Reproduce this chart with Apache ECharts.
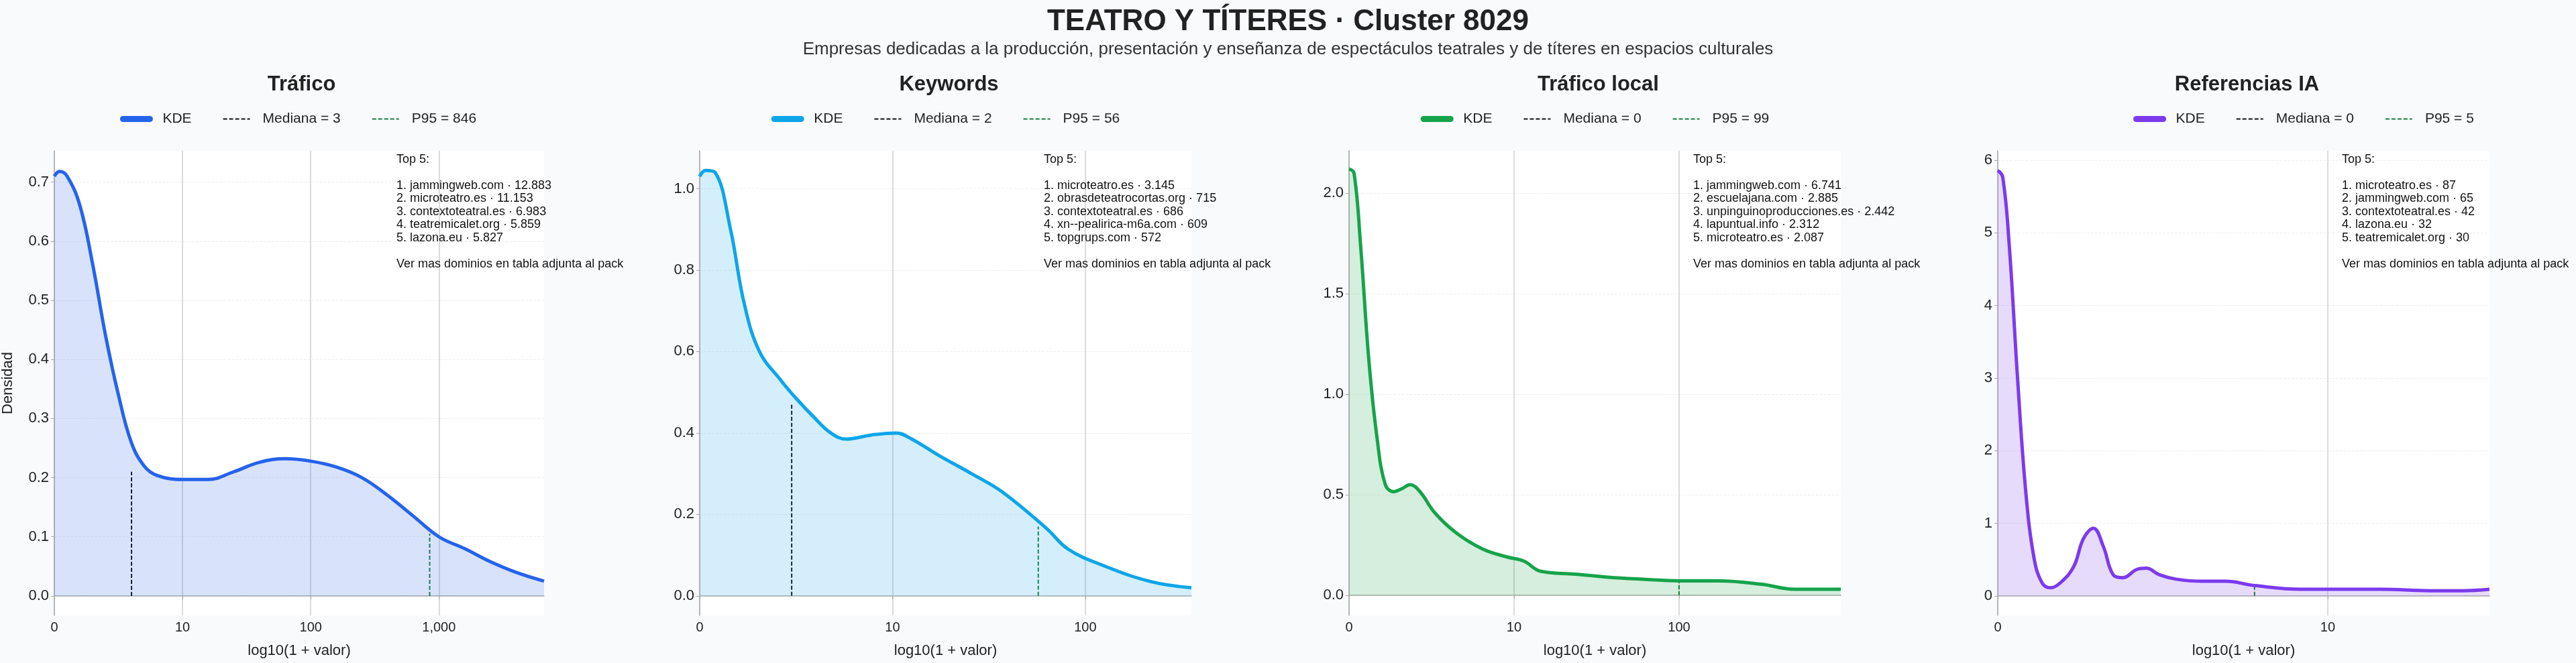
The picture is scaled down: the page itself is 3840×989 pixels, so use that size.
<!DOCTYPE html>
<html>
<head>
<meta charset="utf-8">
<script src="https://cdn.jsdelivr.net/npm/echarts@6/dist/echarts.min.js"></script>
<style>
  html, body { margin: 0; padding: 0; background: #f8fafc; }
  #chart { width: 3840px; height: 989px; }
</style>
</head>
<body>
<div id="chart"></div>
<script>
// Datos: x en log10(1 + valor), y = densidad KDE
var panelTitles = ['Tráfico', 'Keywords', 'Tráfico local', 'Referencias IA'];
var panelColors = ['#2563eb', '#0ea5e9', '#16a34a', '#7c3aed'];
var medianLabels = ['Mediana = 3', 'Mediana = 2', 'Mediana = 0', 'Mediana = 0'];
var p95Labels = ['P95 = 846', 'P95 = 56', 'P95 = 99', 'P95 = 5'];
var medianValues = [3, 2, 0, 0];
var p95Values = [846, 56, 99, 5];
var medianHeights = [0.21, 0.47, 2.1, 5.8];
var p95Heights = [0.105, 0.17, 0.07, 0.14];

var kdeTrafico = [[0,0.71],[0.04,0.718],[0.1,0.71],[0.2,0.66],[0.3,0.56],[0.4,0.44],[0.5,0.34],[0.6,0.26],[0.7,0.22],[0.8,0.204],[1.0,0.197],[1.2,0.197],[1.4,0.21],[1.6,0.226],[1.8,0.232],[2.0,0.228],[2.2,0.218],[2.4,0.2],[2.6,0.17],[2.8,0.135],[3.0,0.1],[3.2,0.08],[3.4,0.058],[3.6,0.04],[3.82,0.025]];
var kdeKeywords = [[0,1.03],[0.03,1.045],[0.08,1.04],[0.16,0.9],[0.23,0.72],[0.31,0.6],[0.42,0.53],[0.5,0.485],[0.59,0.44],[0.68,0.40],[0.76,0.385],[0.89,0.395],[1.02,0.4],[1.1,0.385],[1.24,0.345],[1.41,0.30],[1.57,0.255],[1.8,0.165],[1.91,0.115],[2.09,0.075],[2.34,0.035],[2.55,0.02]];
var kdeLocal = [[0,2.12],[0.03,2.1],[0.07,1.74],[0.12,1.17],[0.17,0.78],[0.22,0.55],[0.27,0.515],[0.32,0.53],[0.37,0.55],[0.43,0.515],[0.52,0.41],[0.65,0.31],[0.81,0.23],[0.96,0.19],[1.06,0.17],[1.16,0.12],[1.37,0.105],[1.57,0.09],[1.78,0.08],[2.0,0.072],[2.24,0.072],[2.5,0.055],[2.7,0.03],[2.98,0.03]];
var kdeIA = [[0,5.86],[0.015,5.77],[0.035,4.82],[0.06,3.0],[0.085,1.43],[0.11,0.52],[0.134,0.18],[0.16,0.11],[0.19,0.18],[0.23,0.4],[0.26,0.79],[0.29,0.93],[0.32,0.68],[0.35,0.29],[0.38,0.25],[0.42,0.36],[0.45,0.38],[0.49,0.29],[0.54,0.23],[0.62,0.2],[0.69,0.2],[0.78,0.14],[0.92,0.09],[1.16,0.09],[1.31,0.07],[1.41,0.07],[1.49,0.09]];
var kdeSeries = [kdeTrafico, kdeKeywords, kdeLocal, kdeIA];

var xMax = [3.82, 2.55, 2.98, 1.49];
var yMin = [-0.033, -0.048, -0.1, -0.27];
var yMax = [0.753, 1.093, 2.21, 6.13];
var yTicks = [
    [0, 0.1, 0.2, 0.3, 0.4, 0.5, 0.6, 0.7],
    [0, 0.2, 0.4, 0.6, 0.8, 1.0],
    [0, 0.5, 1.0, 1.5, 2.0],
    [0, 1, 2, 3, 4, 5, 6]
];
var yDecimals = [1, 1, 1, 0];

var top5 = [
    ['1. jammingweb.com · 12.883', '2. microteatro.es · 11.153', '3. contextoteatral.es · 6.983', '4. teatremicalet.org · 5.859', '5. lazona.eu · 5.827'],
    ['1. microteatro.es · 3.145', '2. obrasdeteatrocortas.org · 715', '3. contextoteatral.es · 686', '4. xn--pealirica-m6a.com · 609', '5. topgrups.com · 572'],
    ['1. jammingweb.com · 6.741', '2. escuelajana.com · 2.885', '3. unpinguinoproducciones.es · 2.442', '4. lapuntual.info · 2.312', '5. microteatro.es · 2.087'],
    ['1. microteatro.es · 87', '2. jammingweb.com · 65', '3. contextoteatral.es · 42', '4. lazona.eu · 32', '5. teatremicalet.org · 30']
];

var font = 'Liberation Sans, Arial, sans-serif';
var gridLefts = [78, 1043, 2011, 2978];
var gridWidth = 733;
var gridTop = 225;
var gridHeight = 693;

var grids = [], xAxes = [], yAxes = [], series = [], legends = [], titles = [], graphics = [];

titles.push({
    text: 'TEATRO Y TÍTERES · Cluster 8029',
    left: 'center', top: 6,
    textStyle: { fontFamily: font, fontSize: 44, fontWeight: 'bold', color: '#222' }
});
titles.push({
    text: 'Empresas dedicadas a la producción, presentación y enseñanza de espectáculos teatrales y de títeres en espacios culturales',
    left: 'center', top: 56,
    textStyle: { fontFamily: font, fontSize: 26, fontWeight: 'normal', color: '#333' }
});

panelTitles.forEach(function(t, i) {
    var center = gridLefts[i] + gridWidth / 2;
    var zw = '\u200b'.repeat(i);
    var kdeName = 'KDE' + zw;
    var medName = medianLabels[i] + zw;
    var p95Name = p95Labels[i] + zw;

    titles.push({
        text: t, left: center, top: 106, textAlign: 'center',
        textStyle: { fontFamily: font, fontSize: 31, fontWeight: 'bold', color: '#222' }
    });

    grids.push({
        left: gridLefts[i], top: gridTop, width: gridWidth, height: gridHeight,
        show: true, backgroundColor: '#ffffff', borderWidth: 0
    });

    xAxes.push({
        type: 'value', gridIndex: i, min: 0, max: xMax[i], interval: 1,
        name: 'log10(1 + valor)', nameLocation: 'middle', nameGap: 42,
        nameTextStyle: { fontFamily: font, fontSize: 22, color: '#222' },
        axisLine: { lineStyle: { color: '#aaa', width: 1.5 } },
        axisTick: { show: true, lineStyle: { color: '#aaa' } },
        axisLabel: {
            fontFamily: font, fontSize: 20, color: '#222', showMaxLabel: false,
            formatter: function(v) { return v === 0 ? '0' : Math.round(Math.pow(10, v)).toLocaleString('en-US'); }
        },
        splitLine: { show: true, showMaxLine: false, lineStyle: { color: '#cfcfcf', width: 1.5 } }
    });

    yAxes.push({
        type: 'value', gridIndex: i, min: yMin[i], max: yMax[i],
        name: i === 0 ? 'Densidad' : '', nameLocation: 'middle', nameGap: 58,
        nameTextStyle: { fontFamily: font, fontSize: 22, color: '#222' },
        axisLine: { show: true, lineStyle: { color: '#aaa', width: 1.5 } },
        axisTick: { show: true, customValues: yTicks[i], lineStyle: { color: '#aaa' } },
        axisLabel: {
            fontFamily: font, fontSize: 22, color: '#222', customValues: yTicks[i],
            formatter: function(v) { return v.toFixed(yDecimals[i]); }
        },
        splitLine: { show: true, lineStyle: { color: '#eeeeee', type: 'dashed', width: 1 } }
    });

    series.push({
        name: kdeName, type: 'line', xAxisIndex: i, yAxisIndex: i,
        data: kdeSeries[i], smooth: 0.4, symbol: 'none',
        lineStyle: { color: panelColors[i], width: 5 },
        itemStyle: { color: panelColors[i] },
        areaStyle: { color: panelColors[i], opacity: 0.18, origin: 0 },
        z: 3
    });
    var mx = Math.log10(1 + medianValues[i]);
    series.push({
        name: medName, type: 'line', xAxisIndex: i, yAxisIndex: i,
        data: [[mx, 0], [mx, medianHeights[i]]], symbol: 'none',
        lineStyle: { color: '#111', width: 2, type: [6, 3], opacity: mx > 0 ? 1 : 0 },
        itemStyle: { color: '#111' }, z: 2
    });
    var px = Math.log10(1 + p95Values[i]);
    series.push({
        name: p95Name, type: 'line', xAxisIndex: i, yAxisIndex: i,
        data: [[px, 0], [px, p95Heights[i]]], symbol: 'none',
        lineStyle: { color: '#15803d', width: 2, type: [6, 3] },
        itemStyle: { color: '#15803d' }, z: 2
    });

    legends.push({
        data: [
            { name: kdeName, itemStyle: { opacity: 0 }, lineStyle: { width: 9, cap: 'round' } },
            { name: medName, itemStyle: { opacity: 0 }, lineStyle: { opacity: 1 } },
            { name: p95Name, itemStyle: { opacity: 0 } }
        ],
        left: center, top: 162,
        align: 'left', itemGap: 46, itemWidth: 40, itemHeight: 14,
        textStyle: { fontFamily: font, fontSize: 21, color: '#222', padding: [0, 0, 0, 14] },
        selectedMode: false
    });

    graphics.push({
        type: 'text', left: gridLefts[i] + 513, top: 228,
        style: {
            text: 'Top 5:\n\n' + top5[i].join('\n') + '\n\nVer mas dominios en tabla adjunta al pack',
            fontFamily: font, fontSize: 18, lineHeight: 19.5, fill: '#111'
        },
        z: 10
    });
});

var chart = echarts.init(document.getElementById('chart'));
chart.setOption({
    backgroundColor: '#f8fafc',
    animation: false,
    title: titles,
    grid: grids,
    xAxis: xAxes,
    yAxis: yAxes,
    legend: legends,
    series: series,
    graphic: graphics
});

// centrar leyendas sobre cada panel
var model = chart.getModel();
var newLegends = legends.map(function(l, i) {
    var view = chart.getViewOfComponentModel(model.getComponent('legend', i));
    var w = view ? view.group.getBoundingRect().width : 430;
    return { left: gridLefts[i] + gridWidth / 2 - w / 2 };
});
chart.setOption({ legend: newLegends });
</script>
</body>
</html>
